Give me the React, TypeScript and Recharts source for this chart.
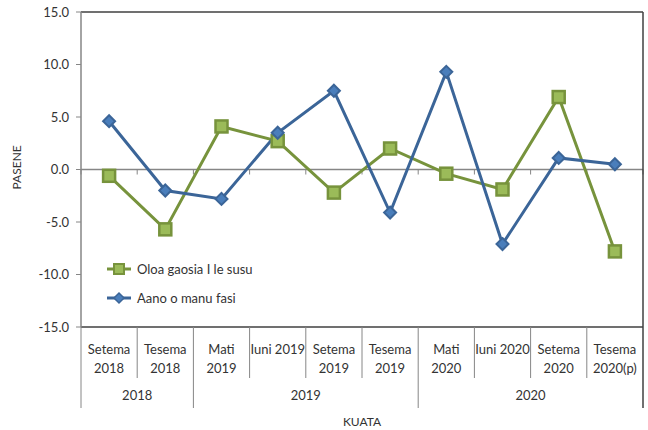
import React from "react";
import { LineChart, Line, XAxis, YAxis, ReferenceLine, Legend } from "recharts";

const quarters = [
    "Setema\n2018",
    "Tesema\n2018",
    "Mati\n2019",
    "Iuni 2019",
    "Setema\n2019",
    "Tesema\n2019",
    "Mati\n2020",
    "Iuni 2020",
    "Setema\n2020",
    "Tesema\n2020(p)",
];
const years = ["2018", "2019", "2020"];
const yearCounts = [2, 4, 4];

const oloaGaosia = [-0.6, -5.7, 4.1, 2.7, -2.2, 2.0, -0.4, -1.9, 6.9, -7.8];
const aanoManuFasi = [4.6, -2.0, -2.8, 3.5, 7.5, -4.1, 9.3, -7.1, 1.1, 0.5];

const yTicks = [-15, -10, -5, 0, 5, 10, 15];

const GREEN = "#77933C";
const GREEN_FILL = "#9BBB59";
const BLUE = "#3B6598";
const BLUE_FILL = "#4A7EBB";
const AXIS_GRAY = "#868686";
const FRAME = "#404040";
const FONT = "Lato, 'Open Sans', sans-serif";

const W = 648;
const H = 430;
const LEFT = 81;
const RIGHT = 5;
const TOP = 12;
const BOTTOM = 103;

const data = quarters.map((q, i) => ({
    q,
    oloa: oloaGaosia[i],
    aano: aanoManuFasi[i],
}));

// first index of each year group
const groupStarts = yearCounts.map((_, g) => yearCounts.slice(0, g).reduce((a, b) => a + b, 0));

const SquareDot = (props: any) => {
    const { cx, cy } = props;
    if (cx == null || cy == null) return null;
    return <rect x={cx - 6} y={cy - 6} width={12} height={12} fill={GREEN_FILL} stroke={GREEN} strokeWidth={2.5} />;
};

const DiamondDot = (props: any) => {
    const { cx, cy } = props;
    if (cx == null || cy == null) return null;
    const r = 6;
    return (
        <polygon
            points={`${cx},${cy - r} ${cx + r},${cy} ${cx},${cy + r} ${cx - r},${cy}`}
            fill={BLUE_FILL}
            stroke={BLUE}
            strokeWidth={2}
        />
    );
};

const CategoryTick = (props: any) => {
    const { x, y, payload } = props;
    const idx: number = payload.index;
    const half = payload.offset || (W - LEFT - RIGHT) / quarters.length / 2;
    const lines = String(payload.value).split("\n");
    const g = groupStarts.indexOf(idx);
    const isLast = idx === quarters.length - 1;
    return (
        <g>
            <line x1={x - half} y1={y} x2={x - half} y2={y + (g >= 0 ? 81 : 51)} stroke={AXIS_GRAY} strokeWidth={1} />
            {isLast && <line x1={x + half} y1={y} x2={x + half} y2={y + 81} stroke={FRAME} strokeWidth={1.5} />}
            {lines.map((ln, k) => (
                <text key={k} x={x} y={y + 27 + k * 19} textAnchor="middle" fontSize={13} fill="#333" fontFamily={FONT}>
                    {ln}
                </text>
            ))}
            {g >= 0 && (
                <text x={x + (yearCounts[g] - 1) * half} y={y + 73} textAnchor="middle" fontSize={13} fill="#333" fontFamily={FONT}>
                    {years[g]}
                </text>
            )}
        </g>
    );
};

const ZeroLine = (props: any) => {
    const { x1, y1, x2 } = props;
    const n = quarters.length;
    const step = (x2 - x1) / n;
    return (
        <g>
            <line x1={x1} y1={y1} x2={x2} y2={y1} stroke={AXIS_GRAY} strokeWidth={1.5} />
            {Array.from({ length: n + 1 }, (_, i) => (
                <line key={i} x1={x1 + i * step} y1={y1} x2={x1 + i * step} y2={y1 + 5} stroke={AXIS_GRAY} strokeWidth={1} />
            ))}
        </g>
    );
};

const LegendBox = () => (
    <div style={{ fontFamily: FONT, fontSize: 13, color: "#333" }}>
        <div style={{ display: "flex", alignItems: "center", height: 29 }}>
            <svg width={30} height={14}>
                <line x1={2} y1={7} x2={26} y2={7} stroke={GREEN} strokeWidth={3} />
                <rect x={9} y={2} width={10} height={10} fill={GREEN_FILL} stroke={GREEN} strokeWidth={2} />
            </svg>
            <span style={{ marginLeft: 2 }}>Oloa gaosia I le susu</span>
        </div>
        <div style={{ display: "flex", alignItems: "center", height: 29 }}>
            <svg width={30} height={14}>
                <line x1={2} y1={7} x2={26} y2={7} stroke={BLUE} strokeWidth={3} />
                <polygon points="14,2 19,7 14,12 9,7" fill={BLUE_FILL} stroke={BLUE} strokeWidth={1.5} />
            </svg>
            <span style={{ marginLeft: 2 }}>Aano o manu fasi</span>
        </div>
    </div>
);

export default function App() {
    return (
        <div style={{ position: "relative", width: W, height: H, background: "#fff" }}>
            <style>{`body{margin:0;}`}</style>
            <LineChart width={W} height={H} data={data} margin={{ top: TOP, right: 0, bottom: 0, left: 0 }}>
                <XAxis
                    dataKey="q"
                    scale="band"
                    interval={0}
                    height={BOTTOM}
                    tickLine={false}
                    tickSize={0}
                    tickMargin={0}
                    axisLine={{ stroke: FRAME, strokeWidth: 1.5 }}
                    tick={<CategoryTick />}
                    label={{ value: "KUATA", position: "insideBottom", offset: 4, fontSize: 12, fill: "#333", fontFamily: FONT }}
                />
                <YAxis
                    yAxisId="l"
                    width={LEFT}
                    domain={[-15, 15]}
                    ticks={yTicks}
                    interval={0}
                    tickFormatter={(v: number) => v.toFixed(1)}
                    tickSize={5}
                    tickMargin={7}
                    tickLine={{ stroke: AXIS_GRAY }}
                    axisLine={{ stroke: AXIS_GRAY, strokeWidth: 1.5 }}
                    tick={{ fontSize: 13, fill: "#333", fontFamily: FONT }}
                    label={{ value: "PASENE", angle: -90, position: "insideLeft", offset: 17, fontSize: 12, fill: "#333", fontFamily: FONT, dy: 20 }}
                />
                <YAxis
                    yAxisId="r"
                    orientation="right"
                    width={RIGHT}
                    domain={[-15, 15]}
                    tick={false}
                    tickLine={false}
                    axisLine={{ stroke: FRAME, strokeWidth: 1.5 }}
                />
                <ReferenceLine yAxisId="l" y={15} stroke={FRAME} strokeWidth={1.5} />
                <ReferenceLine yAxisId="l" y={0} shape={<ZeroLine />} />
                <Legend
                    layout="vertical"
                    align="center"
                    verticalAlign="middle"
                    content={<LegendBox />}
                    wrapperStyle={{ left: 105, top: 254, width: 220, height: 60 }}
                />
                <Line
                    yAxisId="l"
                    dataKey="oloa"
                    name="Oloa gaosia I le susu"
                    stroke={GREEN}
                    strokeWidth={3}
                    dot={<SquareDot />}
                    activeDot={false}
                    isAnimationActive={false}
                />
                <Line
                    yAxisId="l"
                    dataKey="aano"
                    name="Aano o manu fasi"
                    stroke={BLUE}
                    strokeWidth={3}
                    dot={<DiamondDot />}
                    activeDot={false}
                    isAnimationActive={false}
                />
            </LineChart>
        </div>
    );
}
